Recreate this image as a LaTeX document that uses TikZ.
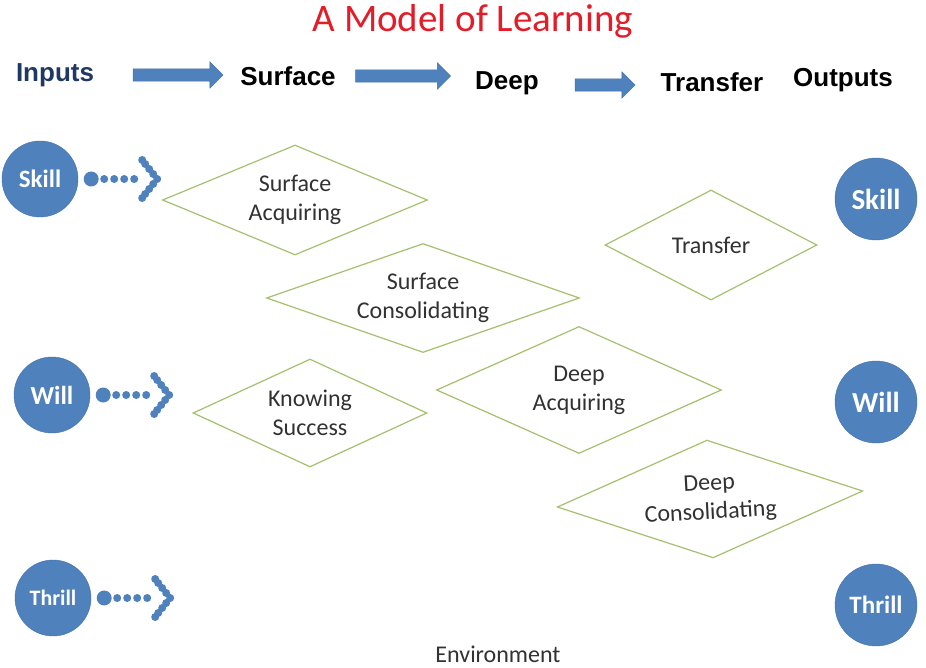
\documentclass[tikz,border=0pt]{standalone}
\usepackage{fontspec}
\setmainfont{Carlito}
\newfontfamily\headfont{Liberation Sans}
\usetikzlibrary{shapes.arrows, shapes.geometric, calc}
\definecolor{ballBlue}{RGB}{79, 129, 189}
\definecolor{ballEdge}{RGB}{66, 112, 172}
\definecolor{stageGreen}{RGB}{165, 192, 110}
\definecolor{titleRed}{RGB}{228, 28, 40}
\definecolor{headNavy}{RGB}{31, 56, 100}
\definecolor{textGrey}{RGB}{50, 50, 50}

\begin{document}
\begin{tikzpicture} [x=1pt, y=-1pt,
        bus/.style={single arrow, single arrow head extend=7pt, fill=ballBlue, draw=ballEdge, inner sep=0pt, inner ysep=6pt},
        head/.style={font=\headfont\bfseries\fontsize{26}{30}\selectfont},
        ball/.style={circle, fill=ballBlue, draw=ballEdge, text=white, inner sep=0pt, font=\bfseries\fontsize{#1}{#1}\selectfont},
        stage/.style={diamond, draw=stageGreen, line width=1.2pt, fill=white, align=center, text=textGrey, inner sep=0pt, font=\fontsize{24}{29}\selectfont}
    ]
        \useasboundingbox[fill=white] (0,0) rectangle (926,668);

        \node[font=\fontsize{39}{42}\selectfont, text=titleRed] (title) at (473,21) {A Model of Learning};

        % top row
        \node[head, text=headNavy] (inputs) at (55,75) {Inputs};
        \node[head] (surface) at (288,76) {Surface};
        \node[head] (deep) at (507,83) {Deep};
        \node[head] (transfer) at (712,82) {Transfer};
        \node[head] (outputs) at (843,80) {Outputs};
        \node[bus, minimum height=90pt, minimum width=26pt] (busA) at (175,75) {};
        \node[bus, minimum height=95pt, minimum width=26pt] (busB) at (400,76) {};
        \node[bus, minimum height=60pt, minimum width=26pt] (busC) at (602,85) {};

        % inputs
        \node[ball=25, minimum size=76pt] (skillIn) at (40,179) {Skill};
        \node[ball=26, minimum size=76pt] (willIn) at (52,395) {Will};
        \node[ball=22, minimum size=76pt] (thrillIn) at (53,598) {Thrill};

        \foreach \b in {skillIn, willIn, thrillIn} {
            \fill[ballBlue] ($ (\b.east) + (13,0) $) circle (7.5pt);
            \foreach \d in {26, 36, 46, 56}
                \fill[ballBlue] ($ (\b.east) + (\d,0) $) circle (4pt);
            \foreach \dx/\dy in {0/0, -4/-5, -8/-10, -12/-15, -15/-19, -4/5, -8/10, -12/15, -15/19}
                \fill[ballBlue] ($ (\b.east) + (79,0) + (\dx,\dy) $) circle (4pt);
        }

        % outputs
        \node[ball=29, minimum size=82pt] (skillOut) at (876,199) {Skill};
        \node[ball=29, minimum size=82pt] (willOut) at (876,402) {Will};
        \node[ball=25, minimum size=82pt] (thrillOut) at (876,605) {Thrill};

        % stages
        \node[stage, shape aspect=2.41, minimum width=265pt, minimum height=110pt] (surfAcq) at (295,200) {Surface\\Acquiring};
        \node[stage, shape aspect=2.87, minimum width=313pt, minimum height=109pt] (surfCons) at (423,298) {Surface\\Consolidating};
        \node[stage, shape aspect=2.17, minimum width=234pt, minimum height=108pt] (knowSucc) at (310,413) {Knowing\\Success};
        \node[stage, shape aspect=2.24, minimum width=285pt, minimum height=127pt] (deepAcq) at (579,390) {Deep\\Acquiring};
        \node[stage, shape aspect=1.93, minimum width=212pt, minimum height=110pt] (trans) at (711,245) {Transfer};
        \node[stage, shape aspect=2.6, minimum width=306pt, minimum height=118pt, rotate=3] (deepCons) at (710,499) {Deep\\Consolidating};

        \node[font=\fontsize{24}{26}\selectfont, text=textGrey] (env) at (498,654) {Environment};
    \end{tikzpicture}
\end{document}
